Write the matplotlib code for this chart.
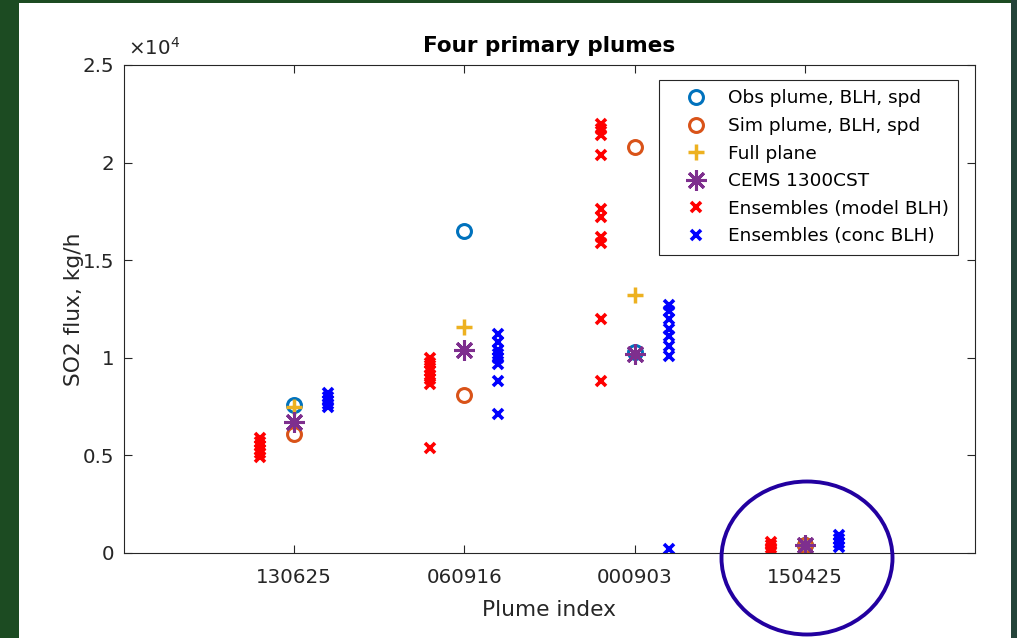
import matplotlib
matplotlib.use('Agg')
import matplotlib.pyplot as plt
from matplotlib.patches import Rectangle, Ellipse
from matplotlib.ticker import FuncFormatter

# Plume dates (x categories)
plumes = ['130625', '060916', '000903', '150425']

# SO2 flux estimates, kg/h
obs_plume = [7600, 16500, 10300, 400]
sim_plume = [6100, 8100, 20800, 400]
full_plane = [7500, 11600, 13200, 400]
cems = [6700, 10400, 10200, 400]

# Ensemble members, one list per plume
ens_model = [
    [5900, 5700, 5500, 5300, 5100, 4900],
    [10000, 9750, 9500, 9300, 9100, 8900, 8650, 5400],
    [22000, 21700, 21400, 20400, 17600, 17200, 16200, 15900, 12000, 8800],
    [550, 400, 250, 100],
]
ens_conc = [
    [8200, 8000, 7800, 7650, 7500],
    [11200, 10800, 10400, 10200, 10000, 9700, 8800, 7100],
    [12700, 12400, 12000, 11500, 11100, 10600, 10100, 200],
    [900, 700, 500, 300],
]

plt.rcParams['font.family'] = 'DejaVu Sans'
W, H = 1017, 638
fig = plt.figure(figsize=(W / 100, H / 100), dpi=100)
fig.patch.set_facecolor('#1c4b22')
# white slide area inside the green frame (drawn below the axes)
fig.patches.append(Rectangle((19 / W, 0), (1011 - 19) / W, (H - 3) / H,
                             transform=fig.transFigure, facecolor='white',
                             edgecolor='none', zorder=-10))
fig.patches.append(Rectangle((1011 / W, 0), 1 - 1011 / W, 1,
                             transform=fig.transFigure, facecolor='#24443a',
                             edgecolor='none', zorder=-10))

ax = fig.add_axes([124 / W, (H - 553) / H, (975 - 124) / W, (553 - 65) / H])
ax.set_facecolor('white')

xs = list(range(1, len(plumes) + 1))
off = 0.2

ax.plot(xs, obs_plume, 'o', ls='none', color='#0072BD', ms=10, mew=2.2,
        mfc='none', label='Obs plume, BLH, spd')
ax.plot(xs, sim_plume, 'o', ls='none', color='#D95319', ms=10, mew=2.2,
        mfc='none', label='Sim plume, BLH, spd')
ax.plot(xs, full_plane, '+', ls='none', color='#EDB120', ms=11, mew=2.5,
        label='Full plane')
ax.plot(xs, cems, marker=(8, 2, 0), ls='none', color='#7E2F8E', ms=15,
        mew=2.2, label='CEMS 1300CST')

for i, vals in enumerate(ens_model):
    ax.plot([xs[i] - off] * len(vals), vals, 'x', ls='none', color='red',
            ms=7.5, mew=2.6, label='Ensembles (model BLH)' if i == 0 else None)
for i, vals in enumerate(ens_conc):
    ax.plot([xs[i] + off] * len(vals), vals, 'x', ls='none', color='blue',
            ms=7.5, mew=2.6, label='Ensembles (conc BLH)' if i == 0 else None)

ax.set_xlim(0, 5)
ax.set_ylim(0, 25000)
ax.set_xticks(xs)
ax.set_xticklabels(plumes)
ax.set_yticks([0, 5000, 10000, 15000, 20000, 25000])
ax.yaxis.set_major_formatter(FuncFormatter(lambda v, p: '%g' % (v / 1e4)))

axc = '#262626'
for s in ax.spines.values():
    s.set_color(axc)
    s.set_linewidth(0.8)
ax.tick_params(direction='in', length=6, width=0.8, colors=axc,
               labelsize=14.3, top=True, right=True, pad=7)
ax.tick_params(axis='x', pad=11)

ax.set_title('Four primary plumes', fontsize=15.5, fontweight='bold',
             color='black', pad=9)
ax.set_xlabel('Plume index', fontsize=15.7, color=axc, labelpad=9)
ax.set_ylabel('SO2 flux, kg/h', fontsize=15.7, color=axc, labelpad=-1)
ax.text(0.005, 1.012, r'$\times10^{4}$', transform=ax.transAxes,
        fontsize=14.3, color=axc, ha='left', va='bottom')

leg = ax.legend(loc='upper right', bbox_to_anchor=(0.980, 0.969),
                borderaxespad=0, fontsize=13.3, numpoints=1, fancybox=False,
                framealpha=1, edgecolor=axc, handlelength=3.0,
                handletextpad=0.2, borderpad=0.5, labelspacing=0.52)
leg.get_frame().set_linewidth(0.8)

# hand-drawn highlight around the last plume
fig.patches.append(Ellipse((807 / W, 1 - 558 / H), 171 / W, 153 / H,
                           transform=fig.transFigure, fill=False,
                           edgecolor='#2200a0', linewidth=2.8, zorder=10))

fig.savefig('out.png', dpi=100, facecolor=fig.get_facecolor())
